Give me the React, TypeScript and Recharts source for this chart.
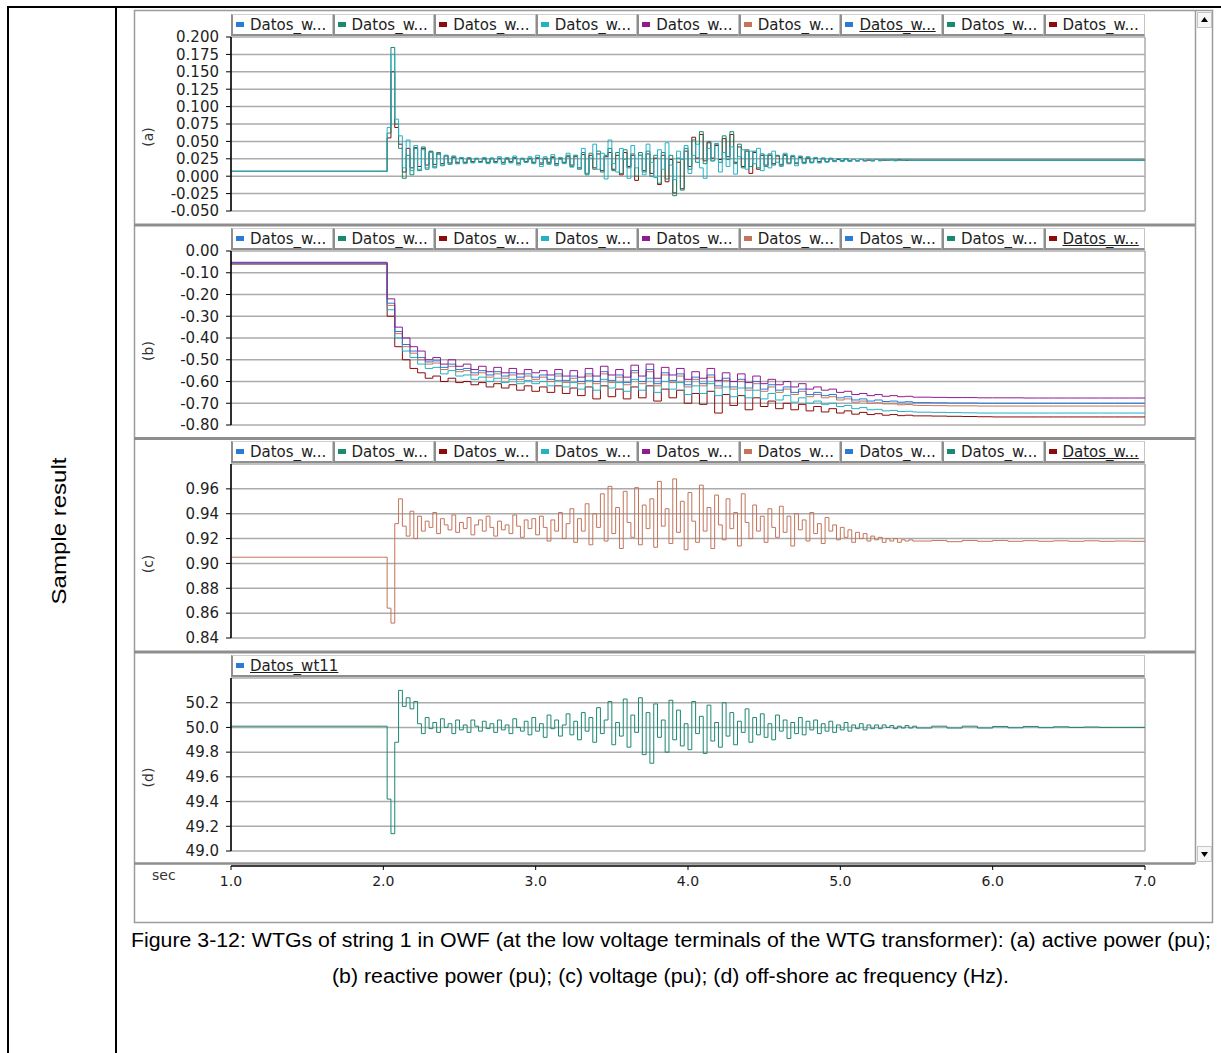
import React from 'react';
import { LineChart, Line, XAxis, YAxis, CartesianGrid, Legend } from 'recharts';

type Pt = { t: number; v: number };

// ---- time axis ----
const X_TICKS = [1, 2, 3, 4, 5, 6, 7];
const PRE_T = 1.0;
const FINE_T0 = 2.0; // panels a, c, d: 2.000 .. 5.475 every 25 ms
const FINE_DT = 0.025;
const FINE_T0_B = 2.025; // panel b: 2.025 .. 5.475 every 50 ms
const FINE_DT_B = 0.05;
const TAIL_T = [5.5, 5.6, 5.7, 5.8, 5.9, 6.0, 6.1, 6.2, 6.3, 6.4, 6.5, 6.6, 6.7, 6.8, 6.9, 7.0];

const BLUE = '#2a7ad6';
const TEAL = '#198a6f';
const DARKRED = '#8c0b0b';
const CYAN = '#22b2c4';
const PURPLE = '#8f1c8f';
const SALMON = '#c4745a';

const SERIES_NAMES = ['Datos_wt11', 'Datos_wt12', 'Datos_wt13', 'Datos_wt14', 'Datos_wt15', 'Datos_wt16', 'Datos_wt17', 'Datos_wt18', 'Datos_wt19'];
const SERIES_COLORS = [BLUE, TEAL, DARKRED, CYAN, PURPLE, SALMON, BLUE, TEAL, DARKRED];

// ---- (a) active power (pu) ----
const A_TICKS = [-0.05, -0.025, 0, 0.025, 0.05, 0.075, 0.1, 0.125, 0.15, 0.175, 0.2];
const activePre = 0.007;
const activeCyanFine = [
  0.007, 0.070, 0.175, 0.082, 0.058, 0.012, 0.052, 0.008, 0.044, 0.010,
  0.038, 0.012, 0.034, 0.014, 0.031, 0.016, 0.030, 0.017, 0.028, 0.018,
  0.027, 0.018, 0.027, 0.019, 0.026, 0.020, 0.027, 0.018, 0.026, 0.019,
  0.028, 0.017, 0.027, 0.019, 0.029, 0.016, 0.026, 0.020, 0.028, 0.018,
  0.030, 0.014, 0.028, 0.017, 0.031, 0.015, 0.027, 0.018, 0.033, 0.013,
  0.030, 0.012, 0.040, 0.004, 0.026, 0.046, 0.010, 0.033, -0.004, 0.052,
  0.018, 0.006, 0.040, 0.024, -0.003, 0.044, 0.012, 0.030, 0.002, 0.046,
  0.020, -0.002, 0.038, 0.010, 0.048, 0.016, -0.005, 0.036, 0.024, 0.044,
  0.004, 0.030, 0.046, 0.012, -0.003, 0.040, 0.022, 0.047, 0.006, 0.034,
  0.014, 0.042, 0.003, 0.028, 0.038, 0.010, 0.036, 0.018, 0.040, 0.008,
  0.030, 0.012, 0.036, 0.020, 0.014, 0.033, 0.018, 0.030, 0.015, 0.029,
  0.018, 0.028, 0.019, 0.027, 0.019, 0.026, 0.020, 0.026, 0.021, 0.025,
  0.021, 0.025, 0.021, 0.024, 0.022, 0.024, 0.022, 0.024, 0.022, 0.024,
  0.022, 0.024, 0.023, 0.024, 0.022, 0.023, 0.023, 0.024, 0.023, 0.023,
];
const activeTealFine = [
  0.007, 0.062, 0.185, 0.075, 0.040, -0.003, 0.030, 0.002, 0.040, 0.008,
  0.042, 0.010, 0.036, 0.012, 0.034, 0.015, 0.030, 0.017, 0.029, 0.018,
  0.026, 0.019, 0.026, 0.020, 0.025, 0.020, 0.025, 0.019, 0.026, 0.020,
  0.026, 0.019, 0.025, 0.020, 0.027, 0.018, 0.025, 0.020, 0.026, 0.019,
  0.027, 0.017, 0.026, 0.018, 0.028, 0.016, 0.025, 0.019, 0.030, 0.014,
  0.030, 0.010, 0.034, 0.002, 0.033, 0.010, 0.036, 0.006, 0.030, 0.040,
  0.008, 0.034, 0.004, 0.038, 0.012, 0.032, 0.000, 0.034, 0.006, 0.036,
  0.000, 0.030, -0.010, 0.034, -0.004, 0.030, -0.028, 0.026, -0.020, 0.040,
  0.010, 0.052, 0.020, 0.064, 0.018, 0.050, 0.022, 0.046, 0.020, 0.058,
  0.024, 0.064, 0.018, 0.046, 0.012, 0.038, 0.014, 0.036, 0.012, 0.032,
  0.014, 0.032, 0.016, 0.030, 0.017, 0.031, 0.018, 0.029, 0.018, 0.028,
  0.019, 0.027, 0.020, 0.026, 0.020, 0.026, 0.021, 0.025, 0.021, 0.025,
  0.022, 0.025, 0.022, 0.024, 0.022, 0.024, 0.023, 0.024, 0.022, 0.024,
  0.023, 0.024, 0.023, 0.023, 0.023, 0.024, 0.023, 0.023, 0.023, 0.023,
];
const activeRedFine = [
  0.007, 0.055, 0.150, 0.070, 0.046, 0.006, 0.040, 0.012, 0.041, 0.014,
  0.040, 0.016, 0.035, 0.017, 0.032, 0.018, 0.029, 0.019, 0.027, 0.020,
  0.026, 0.020, 0.025, 0.021, 0.025, 0.021, 0.025, 0.020, 0.025, 0.021,
  0.025, 0.020, 0.025, 0.021, 0.026, 0.019, 0.025, 0.021, 0.025, 0.020,
  0.026, 0.019, 0.025, 0.020, 0.027, 0.018, 0.025, 0.020, 0.028, 0.016,
  0.028, 0.012, 0.031, 0.004, 0.030, 0.012, 0.032, 0.008, 0.028, 0.034,
  0.010, 0.030, 0.002, 0.034, 0.014, 0.030, -0.006, 0.030, 0.008, 0.032,
  0.004, 0.026, -0.012, 0.030, -0.008, 0.024, -0.024, 0.020, -0.018, 0.036,
  0.014, 0.056, 0.026, 0.060, 0.022, 0.048, 0.026, 0.044, 0.024, 0.054,
  0.028, 0.060, 0.020, 0.042, 0.014, 0.036, 0.004, 0.034, 0.010, 0.030,
  0.016, 0.030, 0.018, 0.029, 0.016, 0.030, 0.019, 0.028, 0.019, 0.027,
  0.020, 0.026, 0.020, 0.026, 0.021, 0.025, 0.021, 0.025, 0.022, 0.024,
  0.022, 0.025, 0.022, 0.024, 0.022, 0.024, 0.022, 0.023, 0.023, 0.024,
  0.023, 0.023, 0.023, 0.024, 0.023, 0.023, 0.023, 0.023, 0.023, 0.023,
];
const activeTail = [0.023, 0.023, 0.023, 0.023, 0.023, 0.023, 0.023, 0.023, 0.023, 0.023, 0.023, 0.023, 0.023, 0.023, 0.023, 0.023];

// ---- (b) reactive power (pu) ----
const B_TICKS = [-0.8, -0.7, -0.6, -0.5, -0.4, -0.3, -0.2, -0.1, 0];
const reactivePurpleFine = [
  -0.22, -0.35, -0.40, -0.44, -0.46, -0.50, -0.49, -0.52, -0.50, -0.53,
  -0.52, -0.545, -0.53, -0.555, -0.535, -0.56, -0.54, -0.565, -0.545, -0.56,
  -0.55, -0.57, -0.545, -0.575, -0.55, -0.58, -0.54, -0.575, -0.53, -0.57,
  -0.545, -0.58, -0.525, -0.575, -0.52, -0.585, -0.535, -0.57, -0.54, -0.59,
  -0.555, -0.585, -0.54, -0.595, -0.56, -0.60, -0.565, -0.605, -0.575, -0.61,
  -0.59, -0.615, -0.60, -0.625, -0.61, -0.635, -0.625, -0.64, -0.635, -0.65,
  -0.645, -0.66, -0.655, -0.665, -0.66, -0.668, -0.665, -0.67, -0.668, -0.672,
];
const reactivePurpleTail = [-0.672, -0.673, -0.674, -0.674, -0.675, -0.675, -0.675, -0.676, -0.676, -0.676, -0.676, -0.676, -0.676, -0.676, -0.676, -0.676];
const reactiveBlueFine = [
  -0.24, -0.37, -0.43, -0.46, -0.49, -0.51, -0.505, -0.535, -0.52, -0.545,
  -0.54, -0.56, -0.55, -0.57, -0.555, -0.575, -0.56, -0.58, -0.565, -0.58,
  -0.57, -0.59, -0.565, -0.595, -0.575, -0.60, -0.565, -0.60, -0.555, -0.595,
  -0.57, -0.605, -0.55, -0.60, -0.545, -0.61, -0.56, -0.595, -0.565, -0.615,
  -0.58, -0.61, -0.57, -0.62, -0.585, -0.625, -0.59, -0.63, -0.60, -0.635,
  -0.615, -0.64, -0.625, -0.65, -0.635, -0.66, -0.65, -0.665, -0.66, -0.675,
  -0.67, -0.685, -0.68, -0.69, -0.685, -0.692, -0.69, -0.695, -0.693, -0.697,
];
const reactiveBlueTail = [-0.697, -0.698, -0.699, -0.699, -0.7, -0.7, -0.7, -0.7, -0.7, -0.7, -0.7, -0.7, -0.7, -0.7, -0.7, -0.7];
const reactiveSalmonFine = [
  -0.25, -0.38, -0.44, -0.47, -0.50, -0.52, -0.515, -0.545, -0.53, -0.555,
  -0.55, -0.57, -0.56, -0.58, -0.565, -0.585, -0.57, -0.59, -0.575, -0.59,
  -0.58, -0.60, -0.575, -0.605, -0.585, -0.61, -0.575, -0.61, -0.565, -0.605,
  -0.58, -0.615, -0.56, -0.61, -0.555, -0.62, -0.57, -0.605, -0.575, -0.625,
  -0.59, -0.62, -0.58, -0.63, -0.595, -0.635, -0.60, -0.64, -0.61, -0.645,
  -0.625, -0.65, -0.635, -0.66, -0.645, -0.67, -0.66, -0.675, -0.67, -0.685,
  -0.68, -0.695, -0.69, -0.70, -0.698, -0.703, -0.703, -0.707, -0.706, -0.709,
];
const reactiveSalmonTail = [-0.71, -0.711, -0.712, -0.712, -0.713, -0.713, -0.713, -0.713, -0.713, -0.713, -0.713, -0.713, -0.713, -0.713, -0.713, -0.713];
const reactiveCyanFine = [
  -0.27, -0.40, -0.46, -0.49, -0.52, -0.54, -0.535, -0.565, -0.55, -0.575,
  -0.57, -0.59, -0.58, -0.60, -0.585, -0.605, -0.59, -0.61, -0.595, -0.61,
  -0.60, -0.62, -0.595, -0.625, -0.605, -0.635, -0.595, -0.64, -0.59, -0.63,
  -0.605, -0.645, -0.59, -0.64, -0.585, -0.65, -0.60, -0.635, -0.605, -0.66,
  -0.62, -0.655, -0.61, -0.665, -0.625, -0.67, -0.63, -0.675, -0.64, -0.68,
  -0.655, -0.685, -0.665, -0.695, -0.675, -0.70, -0.69, -0.705, -0.70, -0.715,
  -0.71, -0.725, -0.72, -0.73, -0.728, -0.735, -0.733, -0.738, -0.737, -0.74,
];
const reactiveCyanTail = [-0.741, -0.742, -0.743, -0.744, -0.745, -0.745, -0.745, -0.745, -0.745, -0.745, -0.745, -0.745, -0.745, -0.745, -0.745, -0.745];
const reactiveRedFine = [
  -0.30, -0.44, -0.50, -0.54, -0.56, -0.585, -0.575, -0.60, -0.585, -0.605,
  -0.60, -0.615, -0.605, -0.625, -0.61, -0.63, -0.615, -0.64, -0.62, -0.645,
  -0.625, -0.65, -0.62, -0.655, -0.63, -0.665, -0.625, -0.68, -0.62, -0.67,
  -0.635, -0.68, -0.625, -0.675, -0.62, -0.69, -0.635, -0.675, -0.64, -0.70,
  -0.655, -0.705, -0.645, -0.745, -0.66, -0.71, -0.665, -0.73, -0.675, -0.715,
  -0.69, -0.725, -0.70, -0.73, -0.705, -0.735, -0.715, -0.74, -0.725, -0.745,
  -0.735, -0.75, -0.742, -0.752, -0.748, -0.755, -0.752, -0.757, -0.755, -0.758,
];
const reactiveRedTail = [-0.758, -0.759, -0.76, -0.761, -0.762, -0.763, -0.763, -0.763, -0.763, -0.763, -0.763, -0.763, -0.763, -0.763, -0.763, -0.763];

// ---- (c) voltage (pu) ----
const C_TICKS = [0.84, 0.86, 0.88, 0.9, 0.92, 0.94, 0.96];
const voltagePre = 0.905;
const voltageFine = [
  0.905, 0.864, 0.852, 0.932, 0.952, 0.930, 0.922, 0.942, 0.920, 0.938,
  0.926, 0.934, 0.929, 0.941, 0.924, 0.936, 0.931, 0.927, 0.939, 0.925,
  0.933, 0.928, 0.937, 0.923, 0.931, 0.935, 0.926, 0.938, 0.929, 0.922,
  0.934, 0.927, 0.931, 0.924, 0.939, 0.930, 0.921, 0.935, 0.928, 0.936,
  0.923, 0.938, 0.929, 0.918, 0.935, 0.926, 0.941, 0.920, 0.932, 0.944,
  0.917, 0.936, 0.926, 0.948, 0.915, 0.940, 0.929, 0.956, 0.918, 0.962,
  0.924, 0.945, 0.912, 0.958, 0.933, 0.921, 0.961, 0.915, 0.947, 0.928,
  0.952, 0.913, 0.966, 0.930, 0.944, 0.916, 0.968, 0.925, 0.950, 0.911,
  0.957, 0.934, 0.917, 0.963, 0.926, 0.945, 0.912, 0.955, 0.931, 0.919,
  0.952, 0.928, 0.941, 0.914, 0.956, 0.933, 0.920, 0.947, 0.926, 0.938,
  0.917, 0.944, 0.929, 0.921, 0.946, 0.925, 0.938, 0.914, 0.940, 0.927,
  0.935, 0.918, 0.941, 0.924, 0.932, 0.916, 0.937, 0.926, 0.931, 0.919,
  0.929, 0.921, 0.927, 0.917, 0.925, 0.920, 0.924, 0.918, 0.922, 0.919,
  0.921, 0.917, 0.920, 0.918, 0.920, 0.917, 0.919, 0.918, 0.919, 0.918,
];
const voltageTail = [0.918, 0.9185, 0.9175, 0.9185, 0.9178, 0.9185, 0.9178, 0.9183, 0.9178, 0.9182, 0.9178, 0.9182, 0.9178, 0.918, 0.9178, 0.918];

// ---- (d) off-shore ac frequency (Hz) ----
const D_TICKS = [49.0, 49.2, 49.4, 49.6, 49.8, 50.0, 50.2];
const freqPre = 50.01;
const freqFine = [
  50.01, 49.42, 49.14, 49.88, 50.30, 50.17, 50.24, 50.15, 50.21, 50.03,
  49.95, 50.08, 49.99, 50.04, 49.96, 50.07, 50.00, 50.03, 49.95, 50.06,
  49.98, 50.02, 49.96, 50.06, 50.01, 49.97, 50.05, 49.99, 50.03, 49.96,
  50.06, 49.98, 50.02, 49.95, 50.07, 50.00, 49.97, 50.05, 49.94, 50.08,
  49.97, 50.03, 49.92, 50.10, 49.99, 50.06, 49.93, 50.02, 50.11, 49.94,
  50.05, 49.90, 50.12, 49.97, 50.08, 49.88, 50.16, 49.95, 50.06, 50.21,
  49.86, 50.04, 49.93, 50.23, 49.84, 50.10, 49.96, 50.24, 49.78, 50.12,
  49.71, 50.19, 49.92, 50.06, 49.80, 50.22, 49.90, 50.14, 49.85, 50.03,
  49.82, 50.21, 49.95, 50.09, 49.79, 50.18, 49.89, 50.04, 49.84, 50.20,
  49.93, 50.12, 49.86, 50.05, 49.96, 50.15, 49.88, 50.08, 49.94, 50.11,
  49.92, 50.03, 49.90, 50.10, 49.97, 50.06, 49.91, 50.04, 49.95, 50.08,
  49.94, 50.05, 49.98, 50.06, 49.95, 50.03, 49.97, 50.05, 49.96, 50.02,
  49.98, 50.04, 49.97, 50.02, 49.99, 50.03, 49.98, 50.02, 49.99, 50.02,
  49.99, 50.02, 50.00, 50.015, 49.99, 50.01, 49.995, 50.015, 49.995, 50.01,
];
const freqTail = [49.995, 50.01, 49.995, 50.01, 49.995, 50.008, 49.997, 50.008, 49.998, 50.005, 50.0, 50.003, 50.0, 50.0, 50.0, 50.0];

function toPoints(pre: number, fine: number[], t0: number, dt: number, tail: number[]): Pt[] {
  return [
    { t: PRE_T, v: pre },
    ...fine.map((v, i) => ({ t: +(t0 + i * dt).toFixed(3), v })),
    ...tail.map((v, j) => ({ t: TAIL_T[j], v })),
  ];
}

const aCyan = toPoints(activePre, activeCyanFine, FINE_T0, FINE_DT, activeTail);
const aTeal = toPoints(activePre, activeTealFine, FINE_T0, FINE_DT, activeTail);
const aRed = toPoints(activePre, activeRedFine, FINE_T0, FINE_DT, activeTail);

const bPurple = toPoints(-0.052, reactivePurpleFine, FINE_T0_B, FINE_DT_B, reactivePurpleTail);
const bBlue = toPoints(-0.056, reactiveBlueFine, FINE_T0_B, FINE_DT_B, reactiveBlueTail);
const bSalmon = toPoints(-0.057, reactiveSalmonFine, FINE_T0_B, FINE_DT_B, reactiveSalmonTail);
const bCyan = toPoints(-0.058, reactiveCyanFine, FINE_T0_B, FINE_DT_B, reactiveCyanTail);
const bRed = toPoints(-0.06, reactiveRedFine, FINE_T0_B, FINE_DT_B, reactiveRedTail);

const cVolt = toPoints(voltagePre, voltageFine, FINE_T0, FINE_DT, voltageTail);
const dFreq = toPoints(freqPre, freqFine, FINE_T0, FINE_DT, freqTail);

const LEGEND9 = SERIES_NAMES.map((n, i) => ({ label: n.slice(0, 7) + '...', color: SERIES_COLORS[i] }));

type LegendItem = { label: string; color: string };
type LineDef = { color: string; data: Pt[] };

function LegendRow({ items, underlined }: { items: LegendItem[]; underlined: number }) {
  return (
    <div style={{ display: 'flex', width: 914, height: 22 }}>
      {items.map((it, i) => (
        <div
          key={i}
          style={{
            flex: 1,
            boxSizing: 'border-box',
            height: 22,
            background: '#fff',
            borderTop: '1px solid #cfcfcf',
            borderRight: '1px solid #c4c4c4',
            borderLeft: '2px solid #8e8e8e',
            borderBottom: '2px solid #8e8e8e',
            display: 'flex',
            alignItems: 'center',
            paddingLeft: 3,
            overflow: 'hidden',
            whiteSpace: 'nowrap',
            fontFamily: 'DejaVu Sans',
            fontSize: 15,
            color: '#1e1e1e',
          }}
        >
          <span style={{ display: 'inline-block', width: 8, height: 5, background: it.color, marginRight: 6, flex: 'none' }} />
          <span style={{ textDecoration: i === underlined ? 'underline' : 'none' }}>{it.label}</span>
        </div>
      ))}
    </div>
  );
}

function TimePanel(props: {
  top: number;
  height: number;
  marginTop: number;
  marginBottom: number;
  legendTop: number;
  domain: [number, number];
  ticks: number[];
  digits: number;
  tag: string;
  lines: LineDef[];
  legend: LegendItem[];
  underlined: number;
}) {
  const { top, height, marginTop, marginBottom, legendTop, domain, ticks, digits, tag, lines, legend, underlined } = props;
  return (
    <div style={{ position: 'absolute', left: 134, top }}>
      <LineChart width={1061} height={height} margin={{ top: marginTop, right: 50, bottom: marginBottom, left: 0 }}>
        <CartesianGrid stroke="#ababab" strokeWidth={1.5} />
        <XAxis
          type="number"
          dataKey="t"
          domain={[1, 7]}
          ticks={X_TICKS}
          allowDataOverflow
          height={0}
          tick={false}
          tickLine={false}
          axisLine={false}
        />
        <YAxis
          type="number"
          domain={domain}
          ticks={ticks}
          allowDataOverflow
          interval={0}
          width={97}
          tickSize={5}
          tickMargin={7}
          tickFormatter={(v: number) => v.toFixed(digits)}
          tick={{ fill: '#1e1e1e', fontSize: 15, fontFamily: 'DejaVu Sans' }}
          tickLine={{ stroke: '#000' }}
          axisLine={{ stroke: '#000', strokeWidth: 1.5 }}
          label={(p: any) => {
            const vb = p.viewBox || { x: 0, y: marginTop, height: height - marginTop - marginBottom };
            const cx = (vb.x || 0) + 14;
            const cy = vb.y + vb.height / 2 + 13;
            return (
              <text
                x={cx}
                y={cy}
                transform={`rotate(-90, ${cx}, ${cy})`}
                textAnchor="middle"
                dominantBaseline="central"
                fontSize={14}
                fontFamily="DejaVu Sans"
                fill="#333"
              >
                {tag}
              </text>
            );
          }}
        />
        <Legend
          layout="horizontal"
          verticalAlign="middle"
          align="center"
          wrapperStyle={{ top: legendTop, left: 97, width: 914, height: 22 }}
          content={() => <LegendRow items={legend} underlined={underlined} />}
        />
        {lines.map((l, i) => (
          <Line
            key={i}
            type="stepAfter"
            data={l.data}
            dataKey="v"
            stroke={l.color}
            strokeWidth={1}
            dot={false}
            activeDot={false}
            isAnimationActive={false}
          />
        ))}
      </LineChart>
    </div>
  );
}

function Frame() {
  return (
    <svg width={1221} height={1053} style={{ position: 'absolute', left: 0, top: 0 }}>
      <rect x={0} y={0} width={1221} height={1053} fill="#fff" />
      <line x1={7} y1={7} x2={1221} y2={7} stroke="#000" strokeWidth={2} />
      <line x1={8} y1={6} x2={8} y2={1053} stroke="#000" strokeWidth={2} />
      <line x1={116} y1={6} x2={116} y2={1053} stroke="#000" strokeWidth={2} />
      <text
        transform="translate(66 531) rotate(-90)"
        textAnchor="middle"
        fontFamily="Liberation Sans"
        fontSize={21}
        textLength={147}
        lengthAdjust="spacingAndGlyphs"
        fill="#000"
      >
        Sample result
      </text>
      <rect x={134.5} y={10.5} width={1078} height={912} fill="#fff" stroke="#9c9c9c" strokeWidth={1.5} />
      {[225, 438.5, 652].map((y) => (
        <line key={y} x1={134} x2={1195} y1={y} y2={y} stroke="#8e8e8e" strokeWidth={3} />
      ))}
      <line x1={134} x2={1195} y1={863.5} y2={863.5} stroke="#8e8e8e" strokeWidth={2.5} />
      <line x1={1195.5} x2={1195.5} y1={11} y2={864} stroke="#9c9c9c" strokeWidth={1.5} />
      <rect x={1197.5} y={12.5} width={14} height={15} fill="#f6f6f6" stroke="#c4c4c4" />
      <polygon points="1201,22 1208,22 1204.5,17" fill="#000" />
      <rect x={1197.5} y={846.5} width={14} height={15} fill="#f6f6f6" stroke="#c4c4c4" />
      <polygon points="1201,852 1208,852 1204.5,857" fill="#000" />
      <text x={152} y={880} fontFamily="DejaVu Sans" fontSize={14} fill="#333">sec</text>
      <text x={671} y={947} textAnchor="middle" fontFamily="Liberation Sans" fontSize={20} textLength={1080} lengthAdjust="spacingAndGlyphs" fill="#000">
        Figure 3-12: WTGs of string 1 in OWF (at the low voltage terminals of the WTG transformer): (a) active power (pu);
      </text>
      <text x={670.5} y={983} textAnchor="middle" fontFamily="Liberation Sans" fontSize={20} textLength={677} lengthAdjust="spacingAndGlyphs" fill="#000">
        (b) reactive power (pu); (c) voltage (pu); (d) off-shore ac frequency (Hz).
      </text>
    </svg>
  );
}

export default function App() {
  // series with practically identical traces are drawn once; listed in drawing order (last on top)
  const aLines: LineDef[] = [
    { color: DARKRED, data: aRed },
    { color: TEAL, data: aTeal },
    { color: CYAN, data: aCyan },
  ];
  const bLines: LineDef[] = [
    { color: DARKRED, data: bRed },
    { color: CYAN, data: bCyan },
    { color: SALMON, data: bSalmon },
    { color: BLUE, data: bBlue },
    { color: PURPLE, data: bPurple },
  ];
  const cLines: LineDef[] = [{ color: SALMON, data: cVolt }];
  const dLines: LineDef[] = [{ color: '#1b8872', data: dFreq }];

  return (
    <div style={{ position: 'absolute', left: 0, top: 0, width: 1221, height: 1053, background: '#fff', overflow: 'hidden' }}>
      <Frame />
      <TimePanel top={12} height={212} marginTop={25} marginBottom={13} legendTop={2} domain={[-0.05, 0.2]} ticks={A_TICKS} digits={3} tag="(a)" lines={aLines} legend={LEGEND9} underlined={6} />
      <TimePanel top={227} height={210} marginTop={24} marginBottom={12} legendTop={1} domain={[-0.8, 0]} ticks={B_TICKS} digits={2} tag="(b)" lines={bLines} legend={LEGEND9} underlined={8} />
      <TimePanel top={440} height={211} marginTop={24} marginBottom={13} legendTop={1} domain={[0.84, 0.98]} ticks={C_TICKS} digits={2} tag="(c)" lines={cLines} legend={LEGEND9} underlined={8} />
      <TimePanel top={654} height={209} marginTop={24} marginBottom={12} legendTop={1} domain={[49.0, 50.4]} ticks={D_TICKS} digits={1} tag="(d)" lines={dLines} legend={[{ label: 'Datos_wt11', color: BLUE }]} underlined={0} />
      <div style={{ position: 'absolute', left: 134, top: 864 }}>
        <LineChart width={1061} height={59} margin={{ top: 0, right: 50, bottom: 0, left: 97 }}>
          <XAxis
            type="number"
            dataKey="t"
            domain={[1, 7]}
            ticks={X_TICKS}
            allowDataOverflow
            interval={0}
            height={57}
            tickSize={4}
            tickMargin={6}
            tickFormatter={(v: number) => v.toFixed(1)}
            tick={{ fill: '#1e1e1e', fontSize: 14, fontFamily: 'DejaVu Sans' }}
            tickLine={{ stroke: '#000' }}
            axisLine={{ stroke: '#000', strokeWidth: 1.5 }}
          />
          <YAxis hide domain={[0, 1]} />
        </LineChart>
      </div>
    </div>
  );
}
